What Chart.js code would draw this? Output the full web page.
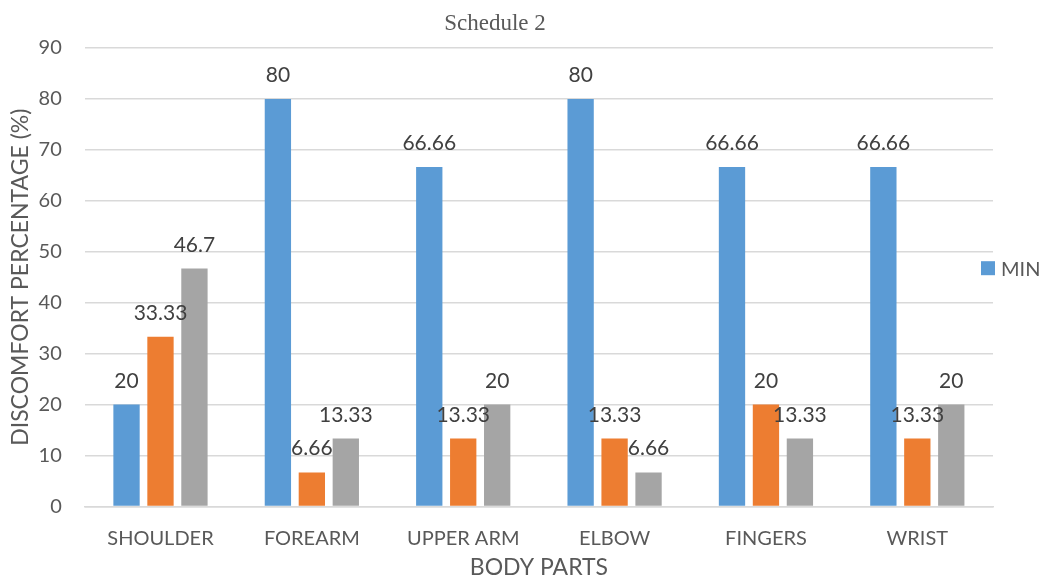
<!DOCTYPE html>
<html lang="en">
<head>
    <meta charset="UTF-8">
    <title>Schedule 2</title>
    <script src="https://cdn.jsdelivr.net/npm/chart.js"></script>
    <style>
        body { margin: 0; background: #fff; }
        #wrap { width: 1045px; height: 582px; }
    </style>
</head>
<body>
    <div id="wrap">
        <canvas id="chart"></canvas>
    </div>
    <script>
        // data
        const bodyParts = ['SHOULDER', 'FOREARM', 'UPPER ARM', 'ELBOW', 'FINGERS', 'WRIST'];
        const minValues = [20, 80, 66.66, 80, 66.66, 66.66];
        const modValues = [33.33, 6.66, 13.33, 13.33, 20, 13.33];
        const maxValues = [46.7, 13.33, 20, 6.66, 13.33, 20];
        const seriesNames = ['MIN', 'MODERATE', 'MAX'];
        const yTicks = [0, 10, 20, 30, 40, 50, 60, 70, 80, 90];

        const font = "Lato, 'Open Sans', sans-serif";
        const textGrey = '#595959';

        // value labels on top of each bar
        const barLabels = {
            id: 'barLabels',
            afterDatasetsDraw(chart) {
                const ctx = chart.ctx;
                ctx.save();
                ctx.font = '21px ' + font;
                ctx.fillStyle = '#404040';
                ctx.textAlign = 'center';
                ctx.textBaseline = 'alphabetic';
                chart.data.datasets.forEach((ds, i) => {
                    chart.getDatasetMeta(i).data.forEach((bar, j) => {
                        ctx.fillText(String(ds.data[j]), bar.x, bar.y - 17);
                    });
                });
                ctx.restore();
            }
        };

        // title and the single legend entry, placed like the original
        const extras = {
            id: 'extras',
            afterDraw(chart) {
                const ctx = chart.ctx;
                ctx.save();
                ctx.fillStyle = textGrey;
                ctx.font = "23px 'Liberation Serif', serif";
                ctx.textAlign = 'center';
                ctx.textBaseline = 'alphabetic';
                ctx.fillText('Schedule 2', 495, 30);

                const ds = chart.data.datasets[0];
                const cy = (chart.chartArea.top + chart.chartArea.bottom) / 2 - 9;
                ctx.fillStyle = ds.backgroundColor;
                ctx.fillRect(981, cy - 7, 14, 14);
                ctx.fillStyle = textGrey;
                ctx.font = '20px ' + font;
                ctx.textAlign = 'left';
                ctx.textBaseline = 'middle';
                ctx.fillText(ds.label, 1001, cy + 1);
                ctx.restore();
            }
        };

        new Chart(document.getElementById('chart'), {
            type: 'bar',
            data: {
                labels: bodyParts,
                datasets: [
                    { label: seriesNames[0], data: minValues, backgroundColor: '#5B9BD5' },
                    { label: seriesNames[1], data: modValues, backgroundColor: '#ED7D31' },
                    { label: seriesNames[2], data: maxValues, backgroundColor: '#A5A5A5' }
                ]
            },
            options: {
                responsive: true,
                maintainAspectRatio: false,
                animation: false,
                categoryPercentage: 0.673,
                barPercentage: 0.775,
                layout: { padding: { left: 6, right: 52, top: 48, bottom: 1 } },
                plugins: {
                    legend: { display: false },
                    tooltip: { enabled: false }
                },
                scales: {
                    x: {
                        // chart.js reserves tick padding twice; give one back
                        afterFit: axis => { axis.height -= 12; },
                        grid: { display: false },
                        border: { color: '#D9D9D9', width: 1.5 },
                        ticks: { color: textGrey, font: { family: font, size: 20 }, padding: 12 },
                        title: {
                            display: true,
                            text: 'BODY PARTS',
                            color: textGrey,
                            font: { family: font, size: 23 },
                            padding: { top: 3, bottom: 0 }
                        }
                    },
                    y: {
                        min: 0,
                        max: 90,
                        afterFit: axis => { axis.width -= 23; },
                        afterBuildTicks: axis => { axis.ticks = yTicks.map(v => ({ value: v })); },
                        grid: { color: '#D9D9D9', lineWidth: 1.5, drawTicks: false },
                        border: { display: false },
                        ticks: { color: textGrey, font: { family: font, size: 20 }, padding: 23 },
                        title: {
                            display: true,
                            text: 'DISCOMFORT PERCENTAGE (%)',
                            color: textGrey,
                            font: { family: font, size: 23 },
                            padding: { top: 1, bottom: 4 }
                        }
                    }
                }
            },
            plugins: [barLabels, extras]
        });
    </script>
</body>
</html>
